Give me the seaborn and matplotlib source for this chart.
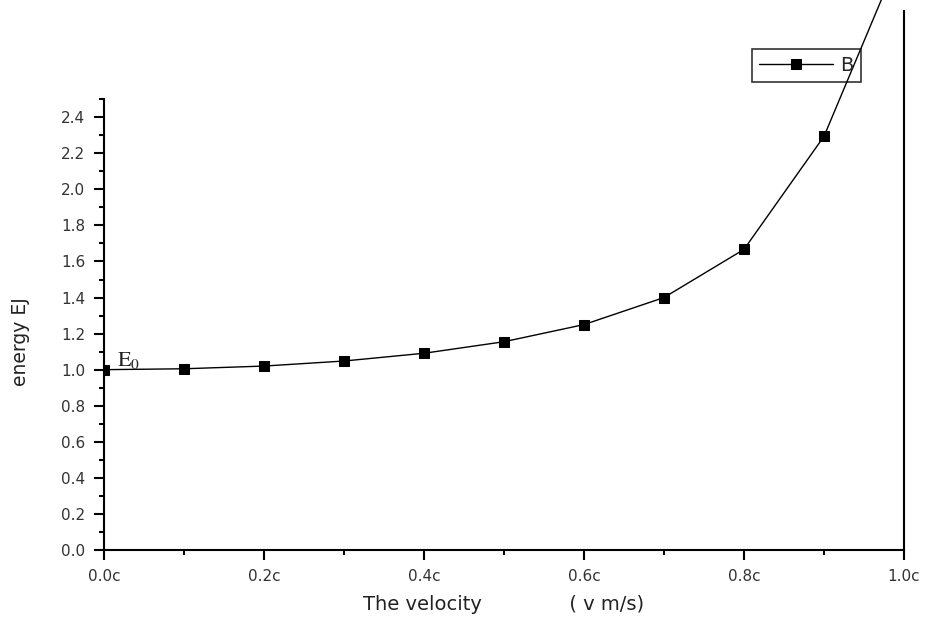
import matplotlib
matplotlib.use("Agg")
from matplotlib import pyplot as plt
from matplotlib.ticker import MultipleLocator, FuncFormatter
import seaborn as sns
import pandas as pd

# velocity as fraction of c, and energy E (J)
velocity = [0.0, 0.1, 0.2, 0.3, 0.4, 0.5, 0.6, 0.7, 0.8, 0.9, 1.0]
energy = [1.0, 1.005, 1.02, 1.048, 1.091, 1.155, 1.25, 1.40, 1.667, 2.294, 3.35]
series_name = "B"

df = pd.DataFrame({"v": velocity, "E": energy})

sns.set_theme(style="ticks")
plt.rcParams["font.family"] = ["DejaVu Sans"]
plt.rcParams["mathtext.fontset"] = "stix"

fig = plt.figure(figsize=(9.32, 6.24), dpi=100)
ax = fig.add_axes([104 / 932, 74 / 624, 800 / 932, 550 / 624])

sns.lineplot(data=df, x="v", y="E", ax=ax, color="black", linewidth=1.0,
             marker="s", markersize=7, markeredgecolor="black", label=series_name)

ax.set_xlim(0, 1.0)
ax.set_ylim(0, 3.05)

# axis frame like the original: no top, short left spine
ax.spines["top"].set_visible(False)
ax.spines["left"].set_bounds(0, 2.5)
ax.spines["right"].set_bounds(0, 2.99)
for s in ["left", "right", "bottom"]:
    ax.spines[s].set_linewidth(1.5)
    ax.spines[s].set_color("black")

ax.xaxis.set_major_locator(MultipleLocator(0.2))
ax.xaxis.set_minor_locator(MultipleLocator(0.1))
ax.set_yticks([round(0.2 * i, 1) for i in range(13)])
ax.set_yticks([round(0.1 * i, 1) for i in range(1, 26, 2)], minor=True)
ax.xaxis.set_major_formatter(FuncFormatter(lambda x, p: f"{x:.1f}c"))
ax.yaxis.set_major_formatter(FuncFormatter(lambda y, p: f"{y:.1f}"))

ax.tick_params(which="major", direction="out", length=7.5, width=1.5, colors="black",
               labelsize=11, labelcolor="#333333", pad=6)
ax.tick_params(which="minor", direction="out", length=3.5, width=1.5, colors="black")
ax.tick_params(axis="y", which="both", right=False)

ax.set_xlabel("The velocity              ( v m/s)", fontsize=14, color="#222222", labelpad=8)
ax.set_ylabel("energy EJ", fontsize=13.5, color="#222222")
ax.yaxis.set_label_coords(-0.093, 0.378)

ax.text(0.016, 1.022, r"$\mathrm{E}_0$", fontsize=16, color="#222222",
        ha="left", va="baseline")

leg = ax.legend(loc="upper right", bbox_to_anchor=(0.946, 0.911), borderaxespad=0,
                fontsize=14, handlelength=3.8, handletextpad=0.4, borderpad=0.35,
                fancybox=False, frameon=True)
leg.get_frame().set_edgecolor("black")
leg.get_frame().set_facecolor("none")
leg.get_frame().set_linewidth(1.2)

fig.savefig("out.png", dpi=100)
